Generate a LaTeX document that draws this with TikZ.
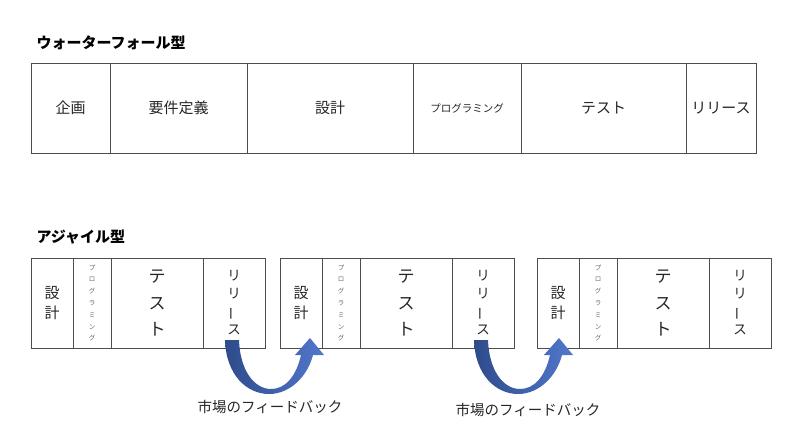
\documentclass[tikz,border=0pt]{standalone}
\usepackage{fontspec}
\setmainfont{Noto Sans CJK JP}
\usepackage{tikz}
\usetikzlibrary{positioning}
\definecolor{LineGray}{HTML}{4D4D4D}
\definecolor{TextGray}{HTML}{262626}
\definecolor{ArrowDark}{HTML}{2E4B8A}
\definecolor{ArrowLight}{HTML}{5277CC}
\newcommand{\fsz}[2]{\fontsize{#1}{#2}\selectfont}

\begin{document}
\begin{tikzpicture}[x=1pt, y=-1pt,
    cell/.style={draw=LineGray, line width=1pt, minimum height=90pt,
                 inner sep=0pt, outer sep=0pt, align=center,
                 text=TextGray, font=\fsz{15}{18}},
    heading/.style={anchor=west, font=\fsz{15}{18}\bfseries, text=black},
    feedback/.style={text=TextGray, font=\fsz{14.5}{18}}]
  \useasboundingbox (0,0) rectangle (800,426);

  % waterfall
  \node[heading] (wftitle) at (33,43) {ウォーターフォール型};
  \node[cell, minimum width=79pt, anchor=west] (wfplan) at (31,108) {企画};
  \node[cell, minimum width=137pt, right=0pt of wfplan] (wfreq) {要件定義};
  \node[cell, minimum width=166pt, right=0pt of wfreq] (wfdes) {設計};
  \node[cell, minimum width=108pt, right=0pt of wfdes, font=\fsz{10.5}{12}] (wfprog) {プログラミング};
  \node[cell, minimum width=165pt, right=0pt of wfprog] (wftest) {テスト};
  \node[cell, minimum width=70pt, right=0pt of wftest] (wfrel) {リリース};

  % agile
  \node[heading] (agtitle) at (33,237) {アジャイル型};
  \foreach \i/\x in {1/31, 2/280, 3/537} {
    \node[cell, minimum width=42pt, anchor=west, font=\fsz{15}{20}] (agdes\i) at (\x,303) {設\\計};
    \node[cell, minimum width=38pt, right=0pt of agdes\i, font=\fsz{6.5}{11.8}, text=gray!80!black] (agprog\i)
      {プ\\ロ\\グ\\ラ\\ミ\\ン\\グ};
    \node[cell, minimum width=92pt, right=0pt of agprog\i, font=\fsz{17}{26.5}] (agtest\i) {テ\\ス\\ト};
    \node[cell, minimum width=62pt, right=0pt of agtest\i, font=\fsz{13.5}{18}] (agrel\i)
      {リ\\リ\\\rotatebox[origin=c]{90}{ー}\\ス};
  }

  % feedback arrows
  \foreach \i in {1,2}
    \path[shift={(agrel\i.south)}, left color=ArrowDark, right color=ArrowLight]
      (-9,-8) .. controls (-8,27) and (13,46) .. (35,46)
      .. controls (57,46) and (74,27) .. (79,7)
      -- (90,7) -- (76,-10) -- (61,7) -- (67,7)
      .. controls (62,29) and (51,41) .. (37,41)
      .. controls (20,41) and (6,22) .. (5,-8) -- cycle;

  \node[feedback] (fb1) at (270,407) {市場のフィードバック};
  \node[feedback] (fb2) at (528,410) {市場のフィードバック};
\end{tikzpicture}
\end{document}
